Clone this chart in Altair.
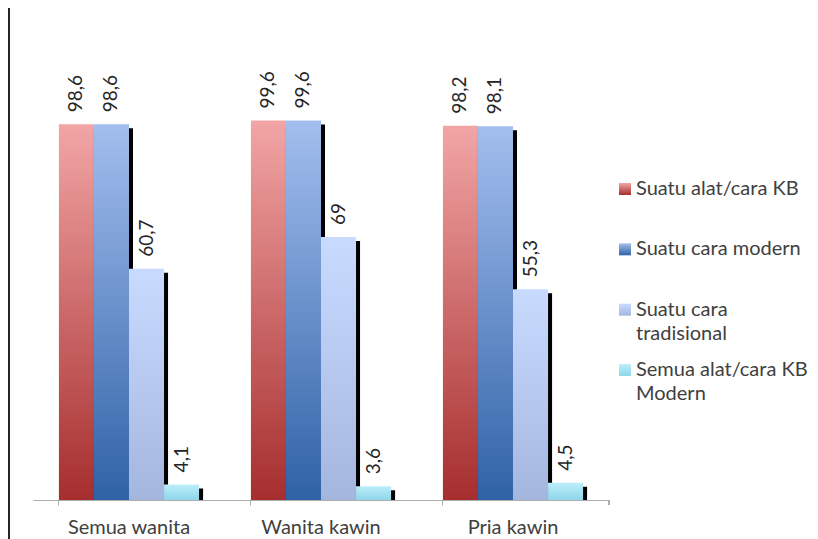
import altair as alt
import pandas as pd

categories = ["Semua wanita", "Wanita kawin", "Pria kawin"]
series = ["Suatu alat/cara KB", "Suatu cara modern", "Suatu cara tradisional", "Semua alat/cara KB Modern"]
legend_labels = ["Suatu alat/cara KB", "Suatu cara modern", "Suatu cara\ntradisional", "Semua alat/cara KB\nModern"]

alat_kb = [98.6, 99.6, 98.2]
cara_modern = [98.6, 99.6, 98.1]
cara_tradisional = [60.7, 69, 55.3]
semua_modern = [4.1, 3.6, 4.5]

top_colors = ["#F2A5A5", "#A3BEEE", "#C8DBFF", "#BDEEFA"]
bottom_colors = ["#A62E2E", "#2F62A6", "#A5B6DE", "#8ED6EA"]

values = [alat_kb, cara_modern, cara_tradisional, semua_modern]
rows = []
for s, vals in zip(series, values):
    for c, v in zip(categories, vals):
        rows.append({"category": c, "series": s, "value": v,
                     "label": f"{v:g}".replace(".", ",")})
df = pd.DataFrame(rows)
leg_df = pd.DataFrame({"series": series, "text": legend_labels})

FONT = "Lato"
W, H = 576, 381
PAD = {"left": 25, "top": 111, "right": 201, "bottom": 39}
PAD_INNER, PAD_OUTER = 0.27, 0.135
BAND = W / (len(categories) - PAD_INNER + 2 * PAD_OUTER) * (1 - PAD_INNER)
SHIFT = 4

x_enc = alt.X("category:N", sort=categories,
              scale=alt.Scale(paddingInner=PAD_INNER, paddingOuter=PAD_OUTER),
              axis=alt.Axis(title=None, labelFont=FONT, labelFontSize=20, labelColor="#404040",
                            domainColor="#ADADAD", tickColor="#ADADAD", tickSize=5,
                            bandPosition=0, labelPadding=12, labelAngle=0, grid=False))
xo_enc = alt.XOffset("series:N", sort=series,
                     scale=alt.Scale(type="band", domain=series, paddingInner=0, paddingOuter=0,
                                     range=[0, BAND]))
xo_shadow = alt.XOffset("series:N", sort=series,
                        scale=alt.Scale(type="band", domain=series, paddingInner=0, paddingOuter=0,
                                        range=[SHIFT, BAND + SHIFT]))
xo_label = alt.XOffset("series:N", sort=series,
                       scale=alt.Scale(type="point", domain=series, padding=0.5,
                                       range=[0, BAND]))
y_scale = alt.Scale(domain=[0, 100], nice=False)
y_enc = alt.Y("value:Q", scale=y_scale, axis=None)


def grad(i):
    return alt.LinearGradient(
        gradient="linear",
        stops=[alt.GradientStop(color=top_colors[i], offset=0),
               alt.GradientStop(color=bottom_colors[i], offset=1)],
        x1=0, x2=0, y1=0, y2=1)


base = alt.Chart(df)
layers = []

shadow = base.mark_bar(color="black", yOffset=SHIFT).encode(
    x=x_enc, xOffset=xo_shadow, y=y_enc, y2=alt.datum(0))
layers.append(shadow)

for i, s in enumerate(series):
    layers.append(
        alt.Chart(df[df.series == s]).mark_bar(fill=grad(i), opacity=1).encode(
            x=x_enc, xOffset=xo_enc, y=y_enc))

labels = base.mark_text(angle=270, align="left", baseline="middle", yOffset=-12,
                        font=FONT, fontSize=19, color="#262626").encode(
    x=x_enc, xOffset=xo_label, y=y_enc, text="label:N")
layers.append(labels)

end_tick = alt.Chart(df).mark_rule(color="#ADADAD").encode(
    x=alt.value(W), y=alt.value(H), y2=alt.value(H + 5))
layers.append(end_tick)

leg_y = alt.Y("series:N", scale=alt.Scale(domain=series, range=[70, 251], padding=0), axis=None)
for i, s in enumerate(series):
    layers.append(
        alt.Chart(leg_df[leg_df.series == s]).mark_square(size=144, fill=grad(i), opacity=1,
                                                           filled=True, strokeWidth=0).encode(
            x=alt.value(592), y=leg_y))
layers.append(
    alt.Chart(leg_df).mark_text(align="left", baseline="line-top", yOffset=-12, lineHeight=24,
                                lineBreak="\n", font=FONT, fontSize=20, color="#404040").encode(
        x=alt.value(603), y=leg_y, text="text:N"))

frame = pd.DataFrame({"edge": ["left"]})
border_left = alt.Chart(frame).mark_rect(color="#262626", strokeWidth=0).encode(
    x=alt.value(-25), x2=alt.value(-23), y=alt.value(-111), y2=alt.value(H + PAD["bottom"]))
layers.append(border_left)

chart = alt.layer(*layers).resolve_scale(y="independent", xOffset="independent").properties(
    width=W, height=H,
    autosize=alt.AutoSizeParams(type="none"),
    padding=PAD,
    background="white",
).configure_view(stroke=None)

chart.save("out.html", embed_options={"renderer": "svg", "actions": False})
